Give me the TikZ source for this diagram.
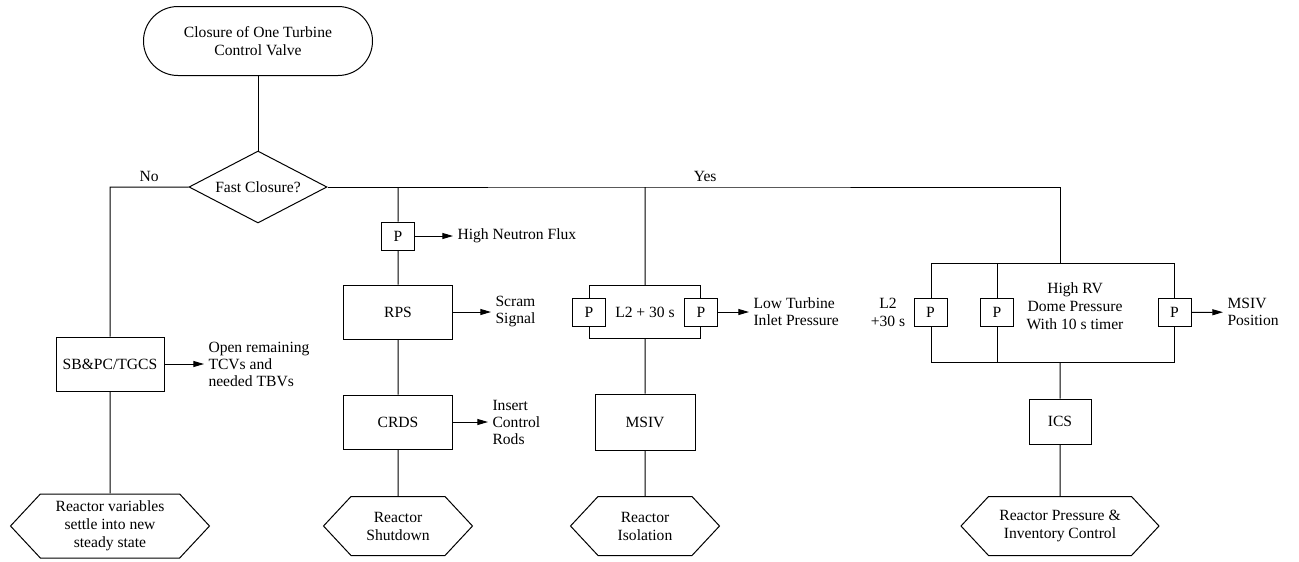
\documentclass[tikz,border=0pt]{standalone}
\usepackage{fontspec}
\setmainfont{LiberationSerif}[Extension=.ttf, UprightFont=*-Regular]
\usetikzlibrary{shapes.geometric,shapes.symbols,arrows.meta}

\begin{document}
\begin{tikzpicture}[x=0.75pt, y=-0.75pt, >={Triangle[length=8pt,width=4.5pt]},
    line width=0.75pt,
    every node/.style={font=\fontsize{11.7}{13.5}\selectfont},
    terminal/.style={draw, rounded corners=25.8pt, minimum width=171.75pt, minimum height=51.75pt, align=center},
    decision/.style={draw, diamond, aspect=2, minimum width=103.5pt, minimum height=54pt, inner sep=0pt},
    block/.style={draw, fill=white, minimum height=40.5pt, align=center},
    pbox/.style={draw, fill=white, minimum width=24.75pt, minimum height=21pt, inner sep=0pt},
    endhex/.style={draw, signal, signal to=west and east, signal pointer angle=94, minimum height=44.25pt, align=center},
    side/.style={anchor=west, inner sep=3pt, align=left, font=\fontsize{11.7}{12.75}\selectfont}]
  \useasboundingbox (0,0) rectangle (1299,561);

  % start and decision
  \node[terminal] (start) at (258,41) {Closure of One Turbine\\Control Valve};
  \node[decision] (fast) at (258,187) {Fast Closure?};
  \draw (start) -- (fast);

  % no branch
  \coordinate (nocorner) at (110,187);
  \node[block, minimum width=81pt] (sbpc) at (110,364) {SB\&PC/TGCS};
  \node[endhex, minimum width=149.25pt, minimum height=48pt] (steady) at (110,526) {Reactor variables\\settle into new\\steady state};
  \node[side] (opentcv) at (204,364) {Open remaining\\TCVs and\\needed TBVs};
  \draw (fast.west) -- node[above] {No} (nocorner) -- (sbpc) -- (steady);
  \draw[->] (sbpc) -- (opentcv);

  % yes branch
  \coordinate (yes2) at (398,187);
  \coordinate (yes3) at (645,187);
  \coordinate (yes4) at (1060,187);

  % scram path
  \node[pbox] (pflux) at (398,236) {P};
  \node[block, minimum width=81.75pt] (rps) at (398,312) {RPS};
  \node[block, minimum width=81.75pt] (crds) at (398,422) {CRDS};
  \node[endhex, minimum width=111.75pt] (shutdown) at (398,526) {Reactor\\Shutdown};
  \node[side] (flux) at (453,236) {High Neutron Flux};
  \node[side] (scram) at (491,312) {Scram\\Signal};
  \node[side] (rods) at (488,422) {Insert\\Control\\Rods};
  \draw (yes2) -- (pflux) -- (rps) -- (crds) -- (shutdown);
  \draw[->] (pflux) -- (flux);
  \draw[->] (rps) -- (scram);
  \draw[->] (crds) -- (rods);

  % isolation path
  \node[draw, minimum width=83.25pt, minimum height=39.75pt] (l2loop) at (645,312) {L2 + 30 s};
  \node[pbox] (pl2a) at (l2loop.west) {P};
  \node[pbox] (pl2b) at (l2loop.east) {P};
  \node[block, minimum width=75pt, minimum height=42pt] (msiv) at (645,422) {MSIV};
  \node[endhex, minimum width=111.75pt] (isolation) at (645,526) {Reactor\\Isolation};
  \node[side] (lowp) at (749,312) {Low Turbine\\Inlet Pressure};
  \draw (yes3) -- (l2loop) -- (msiv) -- (isolation);
  \draw[->] (pl2b) -- (lowp);

  % pressure control path
  \node[draw, minimum width=182.25pt, minimum height=74.25pt] (rvloop) at (1052.5,312.5) {};
  \node[pbox] (pl2c) at (rvloop.west) {P};
  \node[pbox] (pdome) at (997,312) {P};
  \node[pbox] (ppos) at (rvloop.east) {P};
  \node[align=center] (l2txt) at (888,312) {L2\\+30 s};
  \node[align=center] (dometxt) at (1075,306) {High RV\\Dome Pressure\\With 10 s timer};
  \node[block, minimum width=46.5pt, minimum height=33.75pt] (ics) at (1060,421.5) {ICS};
  \node[endhex, minimum width=148.5pt] (invctrl) at (1060,526) {Reactor Pressure \&\\Inventory Control};
  \node[side] (msivpos) at (1223,312) {MSIV\\Position};
  \draw (pdome.north) -- (pdome |- rvloop.north);
  \draw (pdome.south) -- (pdome |- rvloop.south);
  \draw (yes4 |- rvloop.south) -- (ics) -- (invctrl);
  \draw[->] (ppos) -- (msivpos);

  \draw (fast.east) -- (yes3) -- node[above, pos=0.145] {Yes} (yes4) -- (yes4 |- rvloop.north);
\end{tikzpicture}
\end{document}
